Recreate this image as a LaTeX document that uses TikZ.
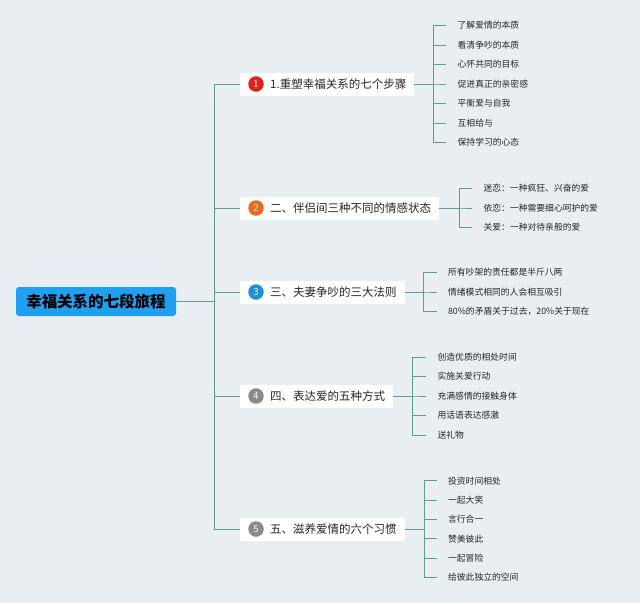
\documentclass[tikz,border=0pt]{standalone}
\usepackage{fontspec}
\newfontfamily\cjk{Noto Sans CJK SC}
\usepackage{xcolor}
\usetikzlibrary{positioning}

\definecolor{bgcol}{HTML}{E9EEF2}
\definecolor{linkcol}{HTML}{5E9E8A}
\definecolor{rootcol}{HTML}{1FA0F0}
\definecolor{redbadge}{HTML}{E0201B}
\definecolor{orangebadge}{HTML}{E8691C}
\definecolor{bluebadge}{HTML}{1E90D8}
\definecolor{graybadge}{HTML}{8A8A8A}

\begin{document}
\begin{tikzpicture}[
    x=1pt, y=-1pt,
    font=\cjk,
    root/.style={rectangle, rounded corners=3pt, fill=rootcol, minimum width=160pt, minimum height=29pt, font=\cjk\bfseries\fontsize{15.5}{17}\selectfont, text=black},
    branch/.style={rectangle, fill=white, minimum height=23pt, inner xsep=8pt, anchor=west, font=\cjk\fontsize{11.5}{13}\selectfont, text=black!85},
    badge/.style={circle, inner sep=0pt, minimum size=15.5pt, text=white, font=\sffamily\fontsize{10.5}{11}\selectfont},
    leaf/.style={anchor=west, inner sep=1pt, font=\cjk\fontsize{8.8}{10}\selectfont, text=black!85},
    link/.style={draw=linkcol, line width=0.9pt}
]
\useasboundingbox[fill=bgcol] (0,0) rectangle (640,603);

% Root
\node[root] (root) at (96,301.5) {幸福关系的七段旅程};

% Main branches
\node[branch] (s1) at (240,84) {\hspace{22pt}1.重塑幸福关系的七个步骤};
\node[branch] (s2) at (240,208) {\hspace{22pt}二、伴侣间三种不同的情感状态};
\node[branch] (s3) at (240,292) {\hspace{22pt}三、夫妻争吵的三大法则};
\node[branch] (s4) at (240,396) {\hspace{22pt}四、表达爱的五种方式};
\node[branch] (s5) at (240,529) {\hspace{22pt}五、滋养爱情的六个习惯};

% Badges
\node[badge, fill=redbadge] (n1) at ([xshift=16pt]s1.west) {1};
\node[badge, fill=orangebadge] (n2) at ([xshift=16pt]s2.west) {2};
\node[badge, fill=bluebadge] (n3) at ([xshift=16pt]s3.west) {3};
\node[badge, fill=graybadge] (n4) at ([xshift=16pt]s4.west) {4};
\node[badge, fill=graybadge] (n5) at ([xshift=16pt]s5.west) {5};

% Root to branches
\foreach \s in {s1,s2,s3,s4,s5}
  \draw[link] (root.east) -- ++(38,0) |- (\s.west);

% Leaves of branch 1
\foreach \t [count=\i] in {了解爱情的本质, 看清争吵的本质, 心怀共同的目标, 促进真正的亲密感, 平衡爱与自我, 互相给与, 保持学习的心态} {
  \path (s1.east) ++(42,{(\i-4)*19.5}) node[leaf] (c1\i) {\t};
  \draw[link] (s1.east) -- ++(19,0) |- ([xshift=-10pt]c1\i.west);
}

% Leaves of branch 2
\foreach \t [count=\i] in {迷恋：一种疯狂、兴奋的爱, 依恋：一种需要细心呵护的爱, 关爱：一种对待亲般的爱} {
  \path (s2.east) ++(43,{(\i-2)*19.5}) node[leaf] (c2\i) {\t};
  \draw[link] (s2.east) -- ++(20,0) |- ([xshift=-10pt]c2\i.west);
}

% Leaves of branch 3
\foreach \t [count=\i] in {所有吵架的责任都是半斤八两, 情绪模式相同的人会相互吸引, 80\%的矛盾关于过去，20\%关于现在} {
  \path (s3.east) ++(42,{(\i-2)*19.5}) node[leaf] (c3\i) {\t};
  \draw[link] (s3.east) -- ++(19,0) |- ([xshift=-10pt]c3\i.west);
}

% Leaves of branch 4
\foreach \t [count=\i] in {创造优质的相处时间, 实施关爱行动, 充满感情的接触身体, 用话语表达感激, 送礼物} {
  \path (s4.east) ++(43,{(\i-3)*19.5}) node[leaf] (c4\i) {\t};
  \draw[link] (s4.east) -- ++(19,0) |- ([xshift=-10pt]c4\i.west);
}

% Leaves of branch 5
\foreach \t [count=\i] in {投资时间相处, 一起大笑, 言行合一, 赞美彼此, 一起冒险, 给彼此独立的空间} {
  \path (s5.east) ++(42,{(\i-3.5)*19.3}) node[leaf] (c5\i) {\t};
  \draw[link] (s5.east) -- ++(20,0) |- ([xshift=-10pt]c5\i.west);
}

\end{tikzpicture}
\end{document}
